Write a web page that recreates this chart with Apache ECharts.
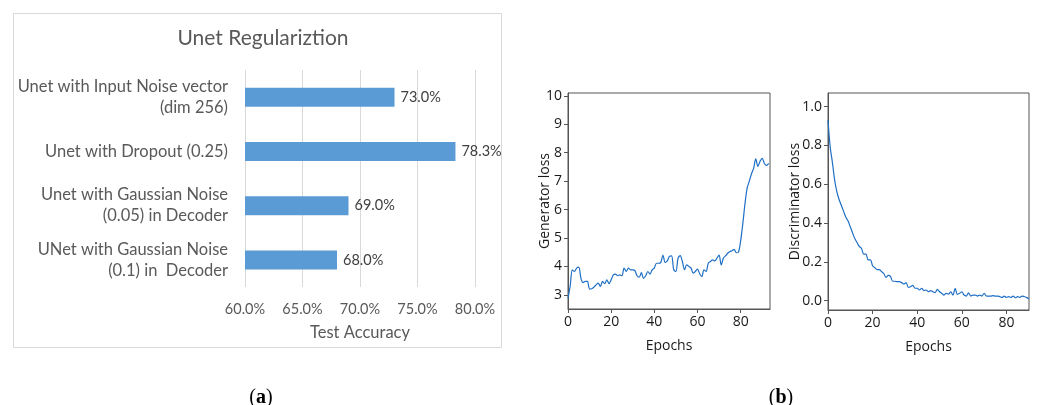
<!DOCTYPE html>
<html>
<head>
<meta charset="utf-8">
<script src="https://cdn.jsdelivr.net/npm/echarts@6/dist/echarts.min.js"></script>
<style>
  html, body { margin: 0; padding: 0; background: #fff; }
  #chart { width: 1041px; height: 405px; }
</style>
</head>
<body>
<div id="chart"></div>
<script>
// (a) bar chart
var barCategories = [
  'Unet with Input Noise vector\n(dim 256)',
  'Unet with Dropout (0.25)',
  'Unet with Gaussian Noise\n(0.05) in Decoder',
  'UNet with Gaussian Noise\n(0.1) in  Decoder'
]
var barValues = [73.0, 78.3, 69.0, 68.0]
var accTicks = [60, 65, 70, 75, 80]

// (b) loss curves, one value per epoch
var genLoss = [
  2.88, 3.3, 3.88, 3.82, 3.94, 3.97, 3.58, 3.43, 3.47, 3.47,
  3.2, 3.21, 3.27, 3.35, 3.41, 3.29, 3.47, 3.39, 3.53, 3.39,
  3.53, 3.7, 3.73, 3.67, 3.7, 3.67, 3.94, 3.82, 3.94, 3.88,
  3.88, 3.85, 3.67, 3.62, 3.78, 3.58, 3.67, 3.82, 3.73, 3.88,
  3.94, 4.11, 4.11, 4.14, 4.4, 4.14, 4.19, 4.35, 4.37, 3.88,
  3.82, 4.29, 4.38, 4.17, 3.88, 4.05, 4.0, 3.94, 3.76, 3.82,
  3.9, 3.74, 3.64, 3.88, 3.82, 4.11, 4.17, 4.23, 4.19, 4.29,
  4.4, 4.05, 4.29, 4.37, 4.46, 4.52, 4.55, 4.6, 4.48, 4.5,
  4.9, 5.5, 6.2, 6.75, 7.0, 7.25, 7.45, 7.78, 7.52, 7.7,
  7.8, 7.62, 7.55, 7.62
]
var discLoss = [
  0.93, 0.79, 0.71, 0.62, 0.56, 0.52, 0.49, 0.46, 0.43, 0.41,
  0.38, 0.35, 0.32, 0.30, 0.28, 0.27, 0.24, 0.24, 0.21, 0.21,
  0.18, 0.17, 0.16, 0.16, 0.15, 0.14, 0.12, 0.13, 0.125, 0.10,
  0.10, 0.098, 0.098, 0.093, 0.086, 0.093, 0.069, 0.072, 0.079, 0.064,
  0.064, 0.055, 0.064, 0.052, 0.055, 0.046, 0.052, 0.046, 0.041, 0.058,
  0.046, 0.038, 0.029, 0.038, 0.034, 0.046, 0.029, 0.064, 0.033, 0.038,
  0.046, 0.029, 0.024, 0.041, 0.024, 0.029, 0.029, 0.024, 0.029, 0.024,
  0.038, 0.024, 0.024, 0.024, 0.026, 0.024, 0.024, 0.021, 0.017, 0.024,
  0.017, 0.021, 0.017, 0.024, 0.015, 0.021, 0.017, 0.024, 0.021, 0.017,
  0.009
]
var epochTicks = [0, 20, 40, 60, 80]
var genTicks = [3, 4, 5, 6, 7, 8, 9, 10]
var discTicks = [0, 0.2, 0.4, 0.6, 0.8, 1.0]

function toPairs (arr) {
  return arr.map(function (v, i) { return [i, v] })
}

var gray = '#595959'
var lossFont = 'Open Sans'
var frameColor = '#555'

function lossXAxis (idx, maxVal) {
  return {
    type: 'value',
    gridIndex: idx,
    min: 0,
    max: maxVal,
    name: 'Epochs',
    nameLocation: 'middle',
    nameGap: 30,
    nameMoveOverlap: false,
    nameTextStyle: { fontFamily: lossFont, fontSize: 14, color: '#1a1a1a' },
    axisLine: { show: true, onZero: false, lineStyle: { color: frameColor } },
    axisTick: { show: true, length: 4, customValues: epochTicks, lineStyle: { color: frameColor } },
    axisLabel: { customValues: epochTicks, fontFamily: lossFont, fontSize: 14, color: '#1a1a1a', margin: 6 },
    splitLine: { show: false }
  }
}

function lossYAxis (idx, minVal, maxVal, ticks, name, gap, digits) {
  return {
    type: 'value',
    gridIndex: idx,
    min: minVal,
    max: maxVal,
    name: name,
    nameLocation: 'middle',
    nameGap: gap,
    nameMoveOverlap: false,
    nameTextStyle: { fontFamily: lossFont, fontSize: 14, color: '#1a1a1a' },
    axisLine: { show: true, onZero: false, lineStyle: { color: frameColor } },
    axisTick: { show: true, length: 4, customValues: ticks, lineStyle: { color: frameColor } },
    axisLabel: {
      customValues: ticks,
      fontFamily: lossFont,
      fontSize: 14,
      color: '#1a1a1a',
      margin: 6,
      formatter: function (v) { return v.toFixed(digits) }
    },
    splitLine: { show: false }
  }
}

var myChart = echarts.init(document.getElementById('chart'))
var option = {
  backgroundColor: '#fff',
  animation: false,
  title: [{
    text: 'Unet Regulariztion',
    left: 258,
    top: 23,
    textAlign: 'center',
    textStyle: { fontFamily: 'Lato', fontSize: 21, fontWeight: 'normal', color: gray }
  }, {
    text: '({a|a})',
    left: 256,
    top: 383,
    textAlign: 'center',
    textStyle: {
      fontFamily: 'Liberation Serif', fontSize: 20, fontWeight: 'normal', color: '#000',
      rich: { a: { fontFamily: 'Liberation Serif', fontSize: 20, fontWeight: 'bold', color: '#000' } }
    }
  }, {
    text: '({a|b})',
    left: 776,
    top: 383,
    textAlign: 'center',
    textStyle: {
      fontFamily: 'Liberation Serif', fontSize: 20, fontWeight: 'normal', color: '#000',
      rich: { a: { fontFamily: 'Liberation Serif', fontSize: 20, fontWeight: 'bold', color: '#000' } }
    }
  }],
  graphic: [{
    type: 'rect',
    shape: { x: 13.5, y: 13.5, width: 488, height: 334 },
    style: { fill: 'none', stroke: '#d9d9d9', lineWidth: 1 },
    silent: true
  }],
  grid: [
    { left: 245, top: 70, width: 230, height: 217 },
    { left: 568, top: 93, width: 202, height: 216, show: true, borderColor: frameColor, borderWidth: 1 },
    { left: 828, top: 93, width: 201, height: 217, show: true, borderColor: frameColor, borderWidth: 1 }
  ],
  xAxis: [{
    type: 'value',
    gridIndex: 0,
    min: 60,
    max: 80,
    interval: 5,
    name: 'Test Accuracy',
    nameLocation: 'middle',
    nameGap: 37,
    nameMoveOverlap: false,
    nameTextStyle: { fontFamily: 'Lato', fontSize: 16.5, color: gray },
    axisLine: { show: false },
    axisTick: { show: false },
    axisLabel: {
      customValues: accTicks,
      fontFamily: 'Lato', fontSize: 14.5, color: gray, margin: 15,
      formatter: function (v) { return v.toFixed(1) + '%' }
    },
    splitLine: { show: true, lineStyle: { color: '#d9d9d9' } }
  },
  lossXAxis(1, 93.6),
  lossXAxis(2, 90.1)],
  yAxis: [{
    type: 'category',
    gridIndex: 0,
    inverse: true,
    data: barCategories,
    axisLine: { show: false },
    axisTick: { show: false },
    axisLabel: {
      fontFamily: 'Lato', fontSize: 16.5, color: gray, margin: 17, lineHeight: 21, align: 'right'
    }
  },
  lossYAxis(1, 2.5, 10.1, genTicks, 'Generator loss', 16, 0),
  lossYAxis(2, -0.048, 1.07, discTicks, 'Discriminator loss', 26, 1)],
  series: [{
    type: 'bar',
    xAxisIndex: 0,
    yAxisIndex: 0,
    data: barValues,
    barWidth: 19,
    itemStyle: { color: '#5b9bd5' },
    label: {
      show: true,
      position: 'right',
      distance: 6,
      fontFamily: 'Lato',
      fontSize: 14.5,
      color: '#404040',
      formatter: function (p) { return p.value.toFixed(1) + '%' }
    }
  }, {
    type: 'line',
    xAxisIndex: 1,
    yAxisIndex: 1,
    data: toPairs(genLoss),
    showSymbol: false,
    smooth: 0.3,
    lineStyle: { color: '#1f6fc5', width: 1.2 }
  }, {
    type: 'line',
    xAxisIndex: 2,
    yAxisIndex: 2,
    data: toPairs(discLoss),
    showSymbol: false,
    smooth: 0.3,
    lineStyle: { color: '#1f6fc5', width: 1.2 }
  }]
}
myChart.setOption(option, true)
</script>
</body>
</html>
